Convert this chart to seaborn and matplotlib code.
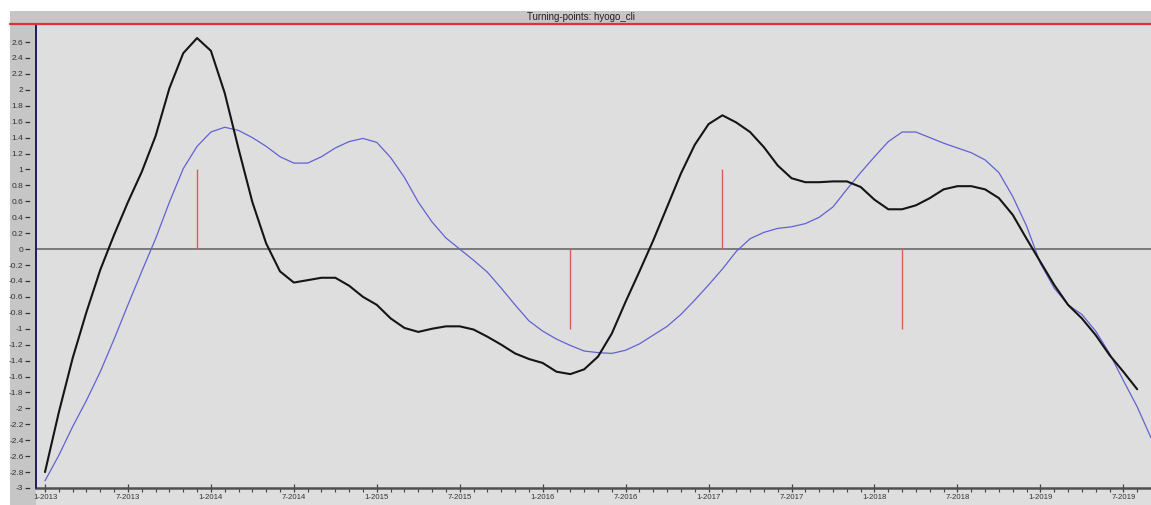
import numpy as np
import pandas as pd
import matplotlib
matplotlib.use("Agg")
import matplotlib.pyplot as plt
from matplotlib.patches import Rectangle
from matplotlib.lines import Line2D
from matplotlib.ticker import FixedLocator, FuncFormatter
import seaborn as sns

# ---------------- data ----------------
start_month = "2013-01"
title = "Turning-points: hyogo_cli"

# black series (reference cycle), monthly from 1-2013
cli_black = [-2.80, -2.05, -1.37, -0.79, -0.26, 0.18, 0.59, 0.97, 1.42, 2.02,
             2.46, 2.65, 2.49, 1.96, 1.26, 0.59, 0.07, -0.28, -0.42, -0.39,
             -0.36, -0.36, -0.46, -0.60, -0.70, -0.87, -0.99, -1.04, -1.00, -0.97,
             -0.97, -1.01, -1.10, -1.20, -1.31, -1.38, -1.43, -1.54, -1.57, -1.51,
             -1.35, -1.06, -0.66, -0.28, 0.11, 0.53, 0.95, 1.31, 1.57, 1.68,
             1.59, 1.47, 1.28, 1.05, 0.89, 0.84, 0.84, 0.85, 0.85, 0.78,
             0.62, 0.50, 0.50, 0.55, 0.64, 0.75, 0.79, 0.79, 0.75, 0.64,
             0.43, 0.13, -0.16, -0.45, -0.70, -0.87, -1.08, -1.33, -1.54, -1.76]

# blue series (smoothed), monthly from 1-2013
cli_blue = [-2.91, -2.59, -2.23, -1.90, -1.54, -1.13, -0.70, -0.28, 0.13, 0.59,
            1.01, 1.29, 1.47, 1.53, 1.49, 1.40, 1.29, 1.16, 1.08, 1.08,
            1.16, 1.27, 1.35, 1.39, 1.34, 1.15, 0.90, 0.59, 0.34, 0.14,
            0.00, -0.14, -0.29, -0.49, -0.70, -0.90, -1.03, -1.13, -1.21, -1.28,
            -1.30, -1.31, -1.27, -1.19, -1.08, -0.97, -0.82, -0.64, -0.45, -0.25,
            -0.03, 0.13, 0.21, 0.26, 0.28, 0.32, 0.40, 0.53, 0.75, 0.96,
            1.16, 1.35, 1.47, 1.47, 1.40, 1.33, 1.27, 1.21, 1.12, 0.96,
            0.66, 0.29, -0.18, -0.49, -0.70, -0.82, -1.03, -1.31, -1.65, -1.98,
            -2.37]

# turning points: month and type (+1 peak, -1 trough)
tp_months = ["2013-12", "2016-03", "2017-02", "2018-03"]
tp_signs = [1, -1, 1, -1]

x_tick_labels = ["1-2013", "7-2013", "1-2014", "7-2014", "1-2015", "7-2015",
                 "1-2016", "7-2016", "1-2017", "7-2017", "1-2018", "7-2018",
                 "1-2019", "7-2019"]

# ---------------- frames ----------------
p0 = pd.Period(start_month, freq="M")
df_black = pd.DataFrame({"m": np.arange(len(cli_black)), "v": cli_black})
df_blue = pd.DataFrame({"m": np.arange(len(cli_blue)), "v": cli_blue})
tp_idx = [(pd.Period(t, freq="M") - p0).n for t in tp_months]
xt_idx = [(pd.Period(f"{s.split('-')[1]}-{int(s.split('-')[0]):02d}", freq="M") - p0).n
          for s in x_tick_labels]

# ---------------- figure ----------------
sns.set_style("white")
plt.rcParams["font.family"] = ["Liberation Sans", "DejaVu Sans"]

W, H = 1151, 505
fig = plt.figure(figsize=(W / 100, H / 100), dpi=100)
fig.patch.set_facecolor("white")

def fx(px):
    return px / W

def fy(py):
    return 1 - py / H

# title band
fig.add_artist(Rectangle((fx(10), fy(24)), fx(1151) - fx(10), fy(11) - fy(24),
                         transform=fig.transFigure, facecolor="#c6c6c6",
                         edgecolor="none", zorder=0))
# left label column
fig.add_artist(Rectangle((fx(10), fy(505)), fx(36) - fx(10), fy(24) - fy(505),
                         transform=fig.transFigure, facecolor="#c6c6c6",
                         edgecolor="none", zorder=0))
# area below plot
fig.add_artist(Rectangle((fx(36), fy(505)), fx(1151) - fx(36), fy(488) - fy(505),
                         transform=fig.transFigure, facecolor="#dedede",
                         edgecolor="none", zorder=0))
fig.text((fx(10) + 1) / 2, fy(17.5), title, ha="center", va="center",
         fontsize=7, color="#222222")

ax = fig.add_axes([fx(36), fy(488), fx(1151) - fx(36), fy(25) - fy(488)])
ax.set_facecolor("#dedede")

# zero line
ax.axhline(0, color="#7a7a7a", lw=1.4, zorder=1)

sns.lineplot(data=df_blue, x="m", y="v", ax=ax, color="#6262d2", lw=0.9, zorder=3)
sns.lineplot(data=df_black, x="m", y="v", ax=ax, color="#151515", lw=1.5, zorder=4)

ax.vlines(tp_idx, 0, tp_signs, color="#e05a5a", lw=1.0, zorder=2)

ax.set_xlim(-0.65, 80)
ax.set_ylim(-3, 2.814)
ax.set_xlabel("")
ax.set_ylabel("")

# y ticks
yt = np.round(np.arange(-3, 2.61, 0.2), 1)
ax.yaxis.set_major_locator(FixedLocator(yt))
ax.yaxis.set_major_formatter(FuncFormatter(lambda v, p: f"{v:g}"))
ax.tick_params(axis="y", direction="out", length=3.8, width=0.9, color="#333333",
               labelsize=6, labelcolor="#333333", pad=1.2, left=True)

# x ticks
ax.set_xticks(xt_idx)
ax.set_xticklabels(x_tick_labels)
ax.xaxis.set_minor_locator(FixedLocator(np.arange(0, 80)))
ax.tick_params(axis="x", which="major", direction="inout", length=6, width=0.9,
               color="#444444", labelsize=5.6, labelcolor="#333333", pad=1.5,
               bottom=True)
ax.tick_params(axis="x", which="minor", direction="out", length=3, width=0.8,
               color="#444444", bottom=True)

for s in ["top", "right"]:
    ax.spines[s].set_visible(False)
ax.spines["bottom"].set_color("#505050")
ax.spines["bottom"].set_linewidth(1.8)
ax.spines["left"].set_position(("outward", 4))
ax.spines["left"].set_color("#c6c6c6")
ax.spines["left"].set_linewidth(0.5)

# navy left axis line and red top rule
ax.add_line(Line2D([0, 0], [0, 1], transform=ax.transAxes, color="#1c1c5c",
                   lw=1.4, clip_on=False, zorder=6))
fig.add_artist(Line2D([fx(10), 1], [fy(24), fy(24)], transform=fig.transFigure,
                      color="#e0303a", lw=1.6, zorder=5))

fig.savefig("out.png", dpi=100)
